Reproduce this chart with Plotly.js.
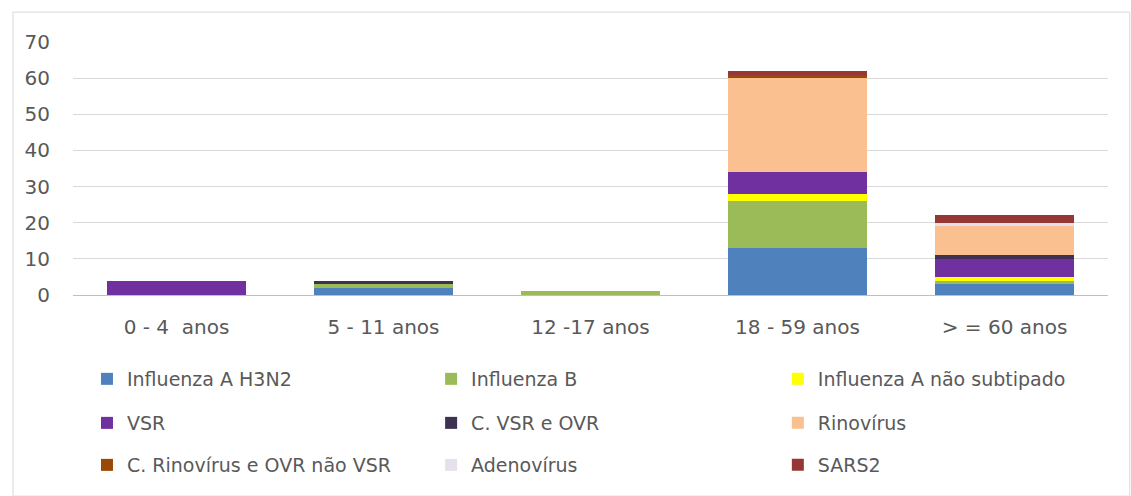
<!DOCTYPE html>
<html>
<head>
<meta charset="utf-8">
<script src="https://cdn.plot.ly/plotly-3.0.1.min.js"></script>
<style>
  body { margin: 0; background: #fff; }
  #chart { width: 1131px; height: 496px; }
</style>
</head>
<body>
<div id="chart"></div>
<script>
let faixas = ["0 - 4  anos", "5 - 11 anos", "12 -17 anos", "18 - 59 anos", "> = 60 anos"];

let h3n2      = [0, 2, 0, 13, 3];
let fluB      = [0, 1, 1, 13, 1];
let naoSub    = [0, 0, 0, 2, 1];
let vsr       = [4, 0, 0, 6, 5];
let cVsrOvr   = [0, 1, 0, 0, 1];
let rino      = [0, 0, 0, 26, 8];
let cRinoOvr  = [0, 0, 0, 1, 0];
let adeno     = [0, 0, 0, 0, 1];
let sars2     = [0, 0, 0, 1, 2];

let nomes = ["Influenza A H3N2", "Influenza B", "Influenza A não subtipado",
             "VSR", "C. VSR e OVR", "Rinovírus",
             "C. Rinovírus e OVR não VSR", "Adenovírus", "SARS2"];
let valores = [h3n2, fluB, naoSub, vsr, cVsrOvr, rino, cRinoOvr, adeno, sars2];
let cores = ["#4F81BD", "#9BBB59", "#FFFF00", "#7030A0", "#3F3151",
             "#FAC090", "#984807", "#E6E0EC", "#953735"];

// legend grid: 3 columns x 3 rows (paper coords)
let colX = [0.0135, 0.346, 0.681];
let rowY = [-0.332, -0.506, -0.672];

let data = [];
let layout = {
    width: 1131,
    height: 496,
    barmode: "stack",
    bargap: 0.33,
    showlegend: true,
    paper_bgcolor: "#fff",
    plot_bgcolor: "#fff",
    margin: { l: 73, r: 23, t: 42, b: 201, pad: 0 },
    font: { family: "'DejaVu Sans', sans-serif", size: 20, color: "#595959" },
    xaxis: {
        type: "category",
        showgrid: false,
        showline: true,
        linecolor: "#BFBFBF",
        linewidth: 1,
        ticks: "",
        ticklabelstandoff: 14,
        automargin: false,
        fixedrange: true
    },
    yaxis: {
        range: [0, 70],
        dtick: 10,
        showgrid: true,
        gridcolor: "#D9D9D9",
        zeroline: false,
        ticks: "",
        ticklabelstandoff: 22,
        automargin: false,
        fixedrange: true
    },
    shapes: [{
        type: "rect", xref: "paper", yref: "paper",
        x0: -0.058, x1: 1.021, y0: -0.795, y1: 1.118,
        line: { color: "#D9D9D9", width: 1 }
    }]
};

for (let i = 0; i < nomes.length; i++) {
    let legId = i == 0 ? "legend" : "legend" + (i + 1);
    data.push({
        type: "bar",
        name: nomes[i],
        x: faixas,
        y: valores[i],
        legend: legId,
        showlegend: true,
        marker: { color: cores[i], line: { width: 0 } },
        hoverinfo: "x+y+name"
    });
    layout[legId] = {
        orientation: "h",
        x: colX[i % 3], xanchor: "left",
        y: rowY[Math.floor(i / 3)], yanchor: "middle",
        itemwidth: 30,
        font: { family: "'DejaVu Sans', sans-serif", size: 19, color: "#595959" },
        bgcolor: "rgba(0,0,0,0)"
    };
}

Plotly.newPlot("chart", data, layout, { displayModeBar: false, staticPlot: true });
</script>
</body>
</html>
